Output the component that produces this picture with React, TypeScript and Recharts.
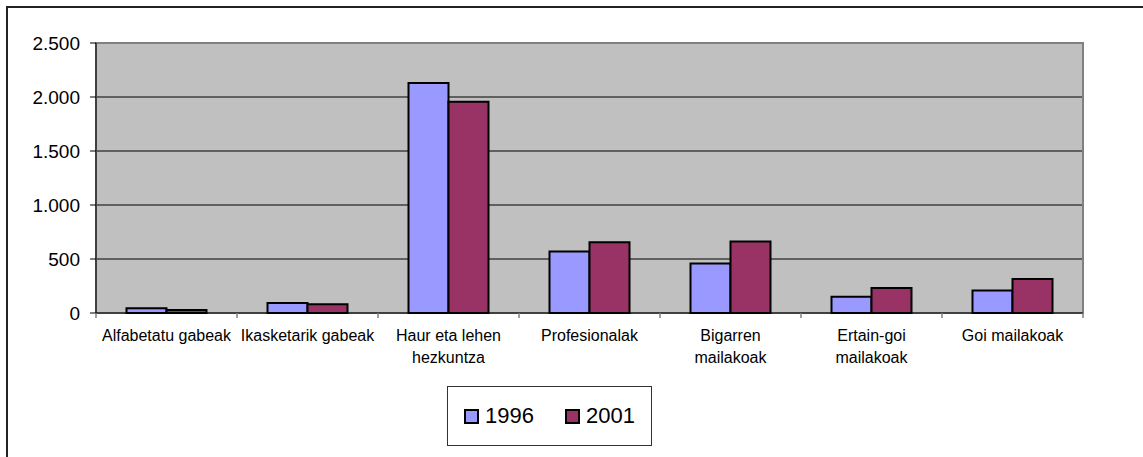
import { BarChart, Bar, XAxis, YAxis, CartesianGrid, Legend, ReferenceArea } from 'recharts';

const categories = [
  'Alfabetatu gabeak',
  'Ikasketarik gabeak',
  'Haur eta lehen\nhezkuntza',
  'Profesionalak',
  'Bigarren\nmailakoak',
  'Ertain-goi\nmailakoak',
  'Goi mailakoak',
];
const values1996 = [45, 93, 2130, 570, 459, 151, 209];
const values2001 = [28, 80, 1956, 654, 663, 231, 315];
const yTicks = [0, 500, 1000, 1500, 2000, 2500];

const data = categories.map((name, i) => ({ name, y1996: values1996[i], y2001: values2001[i] }));

const W = 1143;
const H = 457;
const PLOT_LEFT = 96;
const PLOT_RIGHT = 1083;
const STEP = (PLOT_RIGHT - PLOT_LEFT) / categories.length;
const FONT = '"Liberation Sans", Arial, sans-serif';

const fmt = (v: number) => String(v).replace(/\B(?=(\d{3})+(?!\d))/g, '.');

function CategoryTick(props: any) {
  const { x, y, payload, index } = props;
  const lines = String(payload.value).split('\n');
  const last = index === categories.length - 1;
  return (
    <g>
      <line x1={x - STEP / 2} y1={y} x2={x - STEP / 2} y2={y + 5} stroke="#808080" strokeWidth={1.5} />
      {last && <line x1={x + STEP / 2} y1={y} x2={x + STEP / 2} y2={y + 5} stroke="#808080" strokeWidth={1.5} />}
      <text x={x} y={y} textAnchor="middle" fontSize={16} fontFamily={FONT} fill="#000">
        {lines.map((l, i) => (
          <tspan key={i} x={x} y={y + 28 + i * 22}>{l}</tspan>
        ))}
      </text>
    </g>
  );
}

function LegendBox(props: any) {
  const { payload } = props;
  return (
    <div
      style={{
        width: 205,
        height: 60,
        boxSizing: 'border-box',
        border: '1px solid #333',
        background: '#fff',
        display: 'flex',
        alignItems: 'center',
        justifyContent: 'center',
        gap: 31,
        fontFamily: FONT,
        fontSize: 22,
        color: '#000',
      }}
    >
      {(payload || []).map((e: any) => (
        <div key={e.value} style={{ display: 'flex', alignItems: 'center', gap: 6 }}>
          <span style={{ width: 15, height: 15, boxSizing: 'border-box', border: '2px solid #000', background: e.color, display: 'inline-block' }} />
          <span>{e.value}</span>
        </div>
      ))}
    </div>
  );
}

export default function App() {
  return (
    <div style={{ position: 'absolute', left: 0, top: 0, width: W, height: H, background: '#fff', overflow: 'hidden' }}>
      <div
        style={{
          position: 'absolute',
          left: 6,
          top: 6,
          width: W,
          height: H,
          borderTop: '2px solid #222',
          borderLeft: '2px solid #222',
        }}
      />
      <BarChart
        width={W}
        height={H}
        data={data}
        margin={{ top: 43, right: W - PLOT_RIGHT, left: 0, bottom: 84 }}
        barCategoryGap={30.5}
        barGap={0}
        style={{ position: 'absolute', left: 0, top: 0 }}
      >
        <CartesianGrid vertical={false} fill="#C0C0C0" stroke="#000" strokeOpacity={1} />
        <ReferenceArea y1={0} y2={2500} fill="none" stroke="#808080" strokeWidth={2} />
        <XAxis
          dataKey="name"
          height={60}
          axisLine={{ stroke: '#000', strokeWidth: 1 }}
          tickLine={false}
          tickSize={0}
          tickMargin={0}
          interval={0}
          tick={<CategoryTick />}
        />
        <YAxis
          width={PLOT_LEFT}
          domain={[0, 2500]}
          ticks={yTicks}
          interval={0}
          tickFormatter={fmt}
          axisLine={{ stroke: '#000', strokeWidth: 1 }}
          tickLine={{ stroke: '#000' }}
          tickSize={6}
          tickMargin={10}
          tick={{ fontSize: 19, fill: '#000', fontFamily: FONT }}
        />
        <Legend
          layout="horizontal"
          verticalAlign="middle"
          align="center"
          content={<LegendBox />}
          wrapperStyle={{ left: 447, top: 386, width: 205, height: 60 }}
        />
        <Bar dataKey="y1996" name="1996" fill="#9999FF" stroke="#000" strokeWidth={2} isAnimationActive={false} />
        <Bar dataKey="y2001" name="2001" fill="#993366" stroke="#000" strokeWidth={2} isAnimationActive={false} />
      </BarChart>
    </div>
  );
}
